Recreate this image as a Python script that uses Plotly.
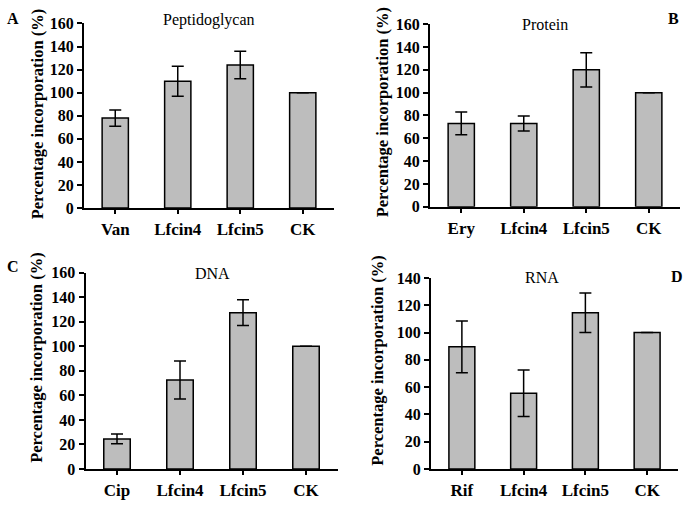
import plotly.graph_objects as go

# Data
cats_a = ["Van", "Lfcin4", "Lfcin5", "CK"]
vals_a = [78, 110, 124, 100]
err_a = [7, 13, 12, 0]

cats_b = ["Ery", "Lfcin4", "Lfcin5", "CK"]
vals_b = [73, 73, 120, 100]
err_b = [10, 6.5, 15, 0]

cats_c = ["Cip", "Lfcin4", "Lfcin5", "CK"]
vals_c = [24.5, 72.5, 127.5, 100]
err_c = [4, 15.5, 10.5, 0]

cats_d = ["Rif", "Lfcin4", "Lfcin5", "CK"]
vals_d = [89.5, 55.5, 114.5, 100]
err_d = [19, 17, 14.5, 0]

titles = ["Peptidoglycan", "Protein", "DNA", "RNA"]
letters = ["A", "B", "C", "D"]
yranges = [160, 160, 160, 140]

FONT = "Liberation Serif, Times New Roman, serif"
BAR = "#bdbdbd"

panels = [(cats_a, vals_a, err_a), (cats_b, vals_b, err_b),
          (cats_c, vals_c, err_c), (cats_d, vals_d, err_d)]

xdomains = [[84/685, 334/685], [430/685, 680/685],
            [85.5/685, 337.5/685], [431/685, 678/685]]
ydomains = [[1-207/506, 1-16/506], [1-205.7/506, 1-16.7/506],
            [1-477/506, 1-274/506], [1-477/506, 1-279.3/506]]

fig = go.Figure()
layout = {}
for i, (cats, vals, errs) in enumerate(panels):
    n = "" if i == 0 else str(i + 1)
    fig.add_trace(go.Bar(
        x=list(range(len(cats))), y=vals, width=0.42,
        marker=dict(color=BAR, line=dict(color="black", width=1.5)),
        error_y=dict(type="data", array=errs, visible=True, color="black",
                     thickness=1.5, width=6),
        xaxis="x" + n, yaxis="y" + n, showlegend=False))
    layout["xaxis" + n] = dict(
        domain=xdomains[i], range=[-0.5, 3.5], anchor="y" + n,
        tickmode="array", tickvals=list(range(len(cats))), ticktext=cats,
        ticks="outside", ticklen=4, tickwidth=1.5, tickcolor="black",
        ticklabelstandoff=1,
        showline=True, linecolor="black", linewidth=2, showgrid=False,
        zeroline=False, fixedrange=True,
        tickfont=dict(family=FONT, size=17, color="black", weight="bold"))
    layout["yaxis" + n] = dict(
        domain=ydomains[i], range=[0, yranges[i]], anchor="x" + n,
        dtick=20, ticks="outside", ticklen=5, tickwidth=1.5, tickcolor="black",
        showline=True, linecolor="black", linewidth=2, showgrid=False,
        zeroline=False, fixedrange=True,
        tickfont=dict(family=FONT, size=16, color="black", weight="bold"))

ann = []
title_pos = [(209, 12), (545, 17), (212, 275), (542, 279)]
for (x, y), t in zip(title_pos, titles):
    ann.append(dict(x=x/685, y=1-y/506, xref="paper", yref="paper", text=t,
                    showarrow=False, xanchor="center", yanchor="middle",
                    font=dict(family=FONT, size=16, color="black")))
letter_pos = [(13, 11), (673, 11), (13, 268), (677, 278)]
for (x, y), t in zip(letter_pos, letters):
    ann.append(dict(x=x/685, y=1-y/506, xref="paper", yref="paper", text=t,
                    showarrow=False, xanchor="center", yanchor="middle",
                    font=dict(family=FONT, size=16, color="black", weight="bold")))
ytitle_pos = [(37, 110), (382, 108), (37, 362), (378, 365)]
for (x, y) in ytitle_pos:
    ann.append(dict(x=x/685, y=1-y/506, xref="paper", yref="paper",
                    text="Percentage incorporation (%)", textangle=-90,
                    showarrow=False, xanchor="center", yanchor="middle",
                    font=dict(family=FONT, size=16.5, color="black", weight="bold")))

fig.update_layout(
    width=685, height=506, margin=dict(l=0, r=0, t=0, b=0),
    paper_bgcolor="white", plot_bgcolor="white",
    annotations=ann, **layout)

fig.write_html("out.html", config={"displayModeBar": False},
               post_script="document.body.style.margin='0';document.body.style.overflow='hidden';")
